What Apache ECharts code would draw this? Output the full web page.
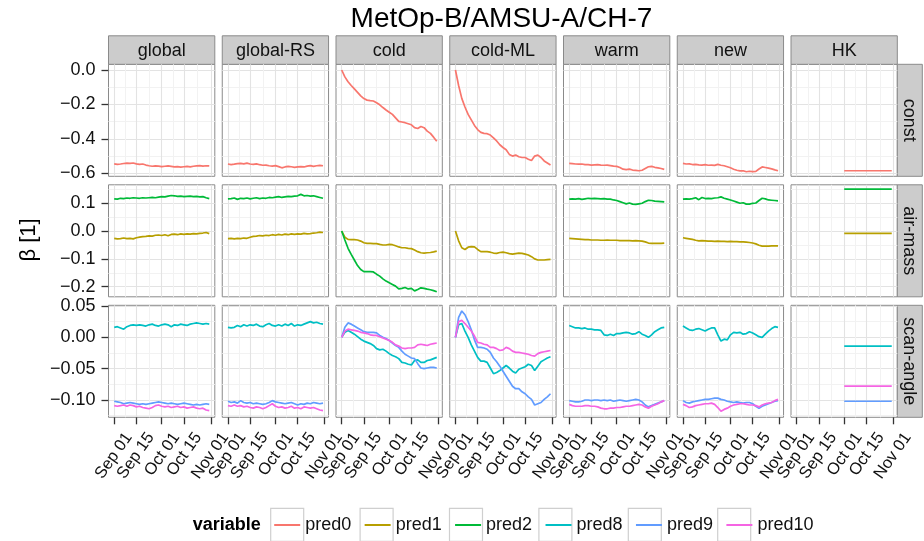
<!DOCTYPE html>
<html>
<head>
<meta charset="utf-8">
<script src="https://cdn.jsdelivr.net/npm/echarts@6/dist/echarts.min.js"></script>
<style>
  html, body { margin: 0; padding: 0; background: #ffffff; }
  #chart { width: 924px; height: 541px; }
</style>
</head>
<body>
<div id="chart"></div>
<script>
// ---- labels and categories ----
const titleText = 'MetOp-B/AMSU-A/CH-7';
const yAxisTitle = 'β [1]';
const legendTitle = 'variable';
const panelNames = ['global', 'global-RS', 'cold', 'cold-ML', 'warm', 'new', 'HK'];
const rowNames = ['const', 'air-mass', 'scan-angle'];
const predNames = ['pred0', 'pred1', 'pred2', 'pred8', 'pred9', 'pred10'];
const predColors = ['#F8766D', '#B79F00', '#00BA38', '#00BFC4', '#619CFF', '#F564E3'];
const monthNames = ['Jan', 'Feb', 'Mar', 'Apr', 'May', 'Jun', 'Jul', 'Aug', 'Sep', 'Oct', 'Nov', 'Dec'];

// sampling dates of the coefficient series
const dates = ['2013-09-01', '2013-09-03', '2013-09-05', '2013-09-07', '2013-09-09', '2013-09-11',
  '2013-09-13', '2013-09-15', '2013-09-17', '2013-09-19', '2013-09-21', '2013-09-23', '2013-09-25',
  '2013-09-27', '2013-09-29', '2013-10-01', '2013-10-03', '2013-10-05', '2013-10-07', '2013-10-09',
  '2013-10-11', '2013-10-13', '2013-10-15', '2013-10-17', '2013-10-19', '2013-10-21', '2013-10-23',
  '2013-10-25', '2013-10-27', '2013-10-29', '2013-10-31'];
const hkDates = ['2013-10-01', '2013-10-31'];

// axis tick labels
const xTickDates = ['2013-09-01', '2013-09-15', '2013-10-01', '2013-10-15', '2013-11-01'];
const constTicks = [0, -0.2, -0.4, -0.6];
const airMassTicks = [0.1, 0, -0.1, -0.2];
const scanAngleTicks = [0.05, 0, -0.05, -0.10];

// ---- const row (pred0) ----
const p0Global = [-0.545, -0.548, -0.546, -0.543, -0.541, -0.542, -0.540, -0.545, -0.548, -0.546, -0.552, -0.556, -0.559, -0.557, -0.558, -0.561, -0.559, -0.557, -0.560, -0.563, -0.561, -0.564, -0.562, -0.560, -0.563, -0.559, -0.557, -0.555, -0.558, -0.556, -0.557];
const p0GlobalRS = [-0.546, -0.549, -0.547, -0.544, -0.542, -0.545, -0.541, -0.546, -0.548, -0.545, -0.550, -0.553, -0.552, -0.556, -0.558, -0.555, -0.561, -0.568, -0.563, -0.560, -0.562, -0.565, -0.563, -0.561, -0.563, -0.558, -0.555, -0.560, -0.556, -0.554, -0.556];
const p0Cold = [0.000, -0.040, -0.068, -0.090, -0.110, -0.130, -0.150, -0.166, -0.175, -0.178, -0.180, -0.190, -0.202, -0.218, -0.232, -0.245, -0.258, -0.278, -0.298, -0.302, -0.306, -0.312, -0.318, -0.335, -0.340, -0.328, -0.335, -0.355, -0.368, -0.390, -0.414];
const p0ColdML = [0.000, -0.090, -0.165, -0.215, -0.258, -0.290, -0.322, -0.346, -0.362, -0.368, -0.370, -0.378, -0.394, -0.412, -0.434, -0.450, -0.463, -0.490, -0.500, -0.494, -0.504, -0.508, -0.508, -0.518, -0.526, -0.500, -0.494, -0.508, -0.528, -0.540, -0.552];
const p0Warm = [-0.542, -0.544, -0.546, -0.547, -0.546, -0.549, -0.550, -0.552, -0.551, -0.550, -0.552, -0.553, -0.552, -0.555, -0.558, -0.560, -0.566, -0.576, -0.578, -0.576, -0.581, -0.583, -0.585, -0.582, -0.572, -0.562, -0.560, -0.565, -0.568, -0.572, -0.577];
const p0New = [-0.542, -0.546, -0.545, -0.549, -0.548, -0.551, -0.552, -0.550, -0.553, -0.552, -0.554, -0.548, -0.553, -0.556, -0.562, -0.568, -0.576, -0.582, -0.586, -0.585, -0.591, -0.588, -0.590, -0.589, -0.575, -0.563, -0.566, -0.570, -0.574, -0.580, -0.585];
const p0HK = [-0.585, -0.585];

// ---- air-mass row (pred1, pred2) ----
const p1Global = [-0.026, -0.028, -0.027, -0.025, -0.027, -0.026, -0.028, -0.024, -0.022, -0.020, -0.019, -0.017, -0.018, -0.015, -0.014, -0.016, -0.013, -0.017, -0.012, -0.011, -0.013, -0.010, -0.012, -0.010, -0.011, -0.009, -0.010, -0.008, -0.007, -0.005, -0.009];
const p1GlobalRS = [-0.027, -0.026, -0.028, -0.026, -0.027, -0.025, -0.026, -0.022, -0.019, -0.018, -0.016, -0.017, -0.015, -0.016, -0.013, -0.015, -0.012, -0.014, -0.011, -0.013, -0.010, -0.012, -0.010, -0.011, -0.008, -0.010, -0.009, -0.007, -0.006, -0.004, -0.005];
const p1Cold = [0.000, -0.022, -0.030, -0.031, -0.031, -0.032, -0.036, -0.042, -0.044, -0.044, -0.045, -0.045, -0.048, -0.050, -0.050, -0.048, -0.049, -0.053, -0.057, -0.060, -0.060, -0.062, -0.063, -0.068, -0.074, -0.078, -0.079, -0.078, -0.077, -0.075, -0.072];
const p1ColdML = [0.000, -0.035, -0.060, -0.066, -0.058, -0.056, -0.057, -0.066, -0.074, -0.074, -0.074, -0.076, -0.079, -0.080, -0.077, -0.076, -0.078, -0.081, -0.083, -0.081, -0.079, -0.080, -0.083, -0.086, -0.092, -0.100, -0.104, -0.104, -0.104, -0.103, -0.102];
const p1Warm = [-0.026, -0.027, -0.028, -0.029, -0.030, -0.031, -0.031, -0.032, -0.032, -0.032, -0.033, -0.033, -0.032, -0.033, -0.033, -0.033, -0.034, -0.034, -0.034, -0.034, -0.035, -0.034, -0.035, -0.036, -0.039, -0.043, -0.044, -0.044, -0.044, -0.044, -0.043];
const p1New = [-0.024, -0.026, -0.028, -0.030, -0.033, -0.035, -0.034, -0.035, -0.036, -0.036, -0.037, -0.036, -0.037, -0.037, -0.038, -0.037, -0.038, -0.038, -0.039, -0.039, -0.040, -0.041, -0.043, -0.046, -0.051, -0.054, -0.054, -0.054, -0.053, -0.053, -0.053];
const p1HK = [-0.008, -0.008];

const p2Global = [0.116, 0.115, 0.118, 0.117, 0.119, 0.118, 0.120, 0.119, 0.118, 0.120, 0.119, 0.120, 0.121, 0.120, 0.122, 0.124, 0.123, 0.126, 0.128, 0.127, 0.125, 0.126, 0.124, 0.125, 0.126, 0.124, 0.125, 0.123, 0.124, 0.120, 0.117];
const p2GlobalRS = [0.116, 0.117, 0.119, 0.114, 0.118, 0.117, 0.119, 0.116, 0.118, 0.120, 0.117, 0.119, 0.118, 0.121, 0.120, 0.122, 0.124, 0.121, 0.123, 0.125, 0.124, 0.126, 0.127, 0.132, 0.127, 0.128, 0.126, 0.127, 0.124, 0.121, 0.118];
const p2Cold = [0.000, -0.032, -0.062, -0.084, -0.104, -0.124, -0.138, -0.146, -0.146, -0.146, -0.147, -0.155, -0.162, -0.172, -0.180, -0.186, -0.192, -0.198, -0.208, -0.206, -0.203, -0.208, -0.206, -0.215, -0.210, -0.204, -0.206, -0.209, -0.211, -0.214, -0.218];
const p2Warm = [0.115, 0.116, 0.115, 0.117, 0.114, 0.116, 0.118, 0.117, 0.118, 0.117, 0.116, 0.117, 0.115, 0.115, 0.112, 0.110, 0.106, 0.102, 0.098, 0.101, 0.097, 0.096, 0.098, 0.100, 0.106, 0.111, 0.110, 0.108, 0.107, 0.106, 0.105];
const p2New = [0.115, 0.116, 0.115, 0.117, 0.120, 0.113, 0.121, 0.117, 0.118, 0.117, 0.119, 0.120, 0.123, 0.118, 0.115, 0.112, 0.108, 0.104, 0.100, 0.102, 0.097, 0.097, 0.100, 0.101, 0.110, 0.118, 0.116, 0.112, 0.111, 0.110, 0.109];
const p2HK = [0.151, 0.151];

// ---- scan-angle row (pred8, pred9, pred10) ----
const p8Global = [0.016, 0.017, 0.015, 0.013, 0.017, 0.019, 0.020, 0.019, 0.020, 0.019, 0.018, 0.020, 0.021, 0.019, 0.018, 0.020, 0.021, 0.020, 0.017, 0.020, 0.019, 0.021, 0.020, 0.019, 0.021, 0.022, 0.023, 0.022, 0.021, 0.022, 0.021];
const p8GlobalRS = [0.016, 0.015, 0.016, 0.019, 0.017, 0.020, 0.018, 0.020, 0.019, 0.021, 0.018, 0.017, 0.020, 0.022, 0.019, 0.018, 0.020, 0.018, 0.021, 0.019, 0.022, 0.018, 0.020, 0.019, 0.021, 0.023, 0.025, 0.023, 0.024, 0.022, 0.021];
const p8Cold = [0.000, 0.008, 0.011, 0.008, 0.005, 0.001, -0.003, -0.006, -0.008, -0.010, -0.013, -0.018, -0.020, -0.019, -0.022, -0.026, -0.029, -0.031, -0.034, -0.040, -0.041, -0.043, -0.044, -0.037, -0.036, -0.040, -0.040, -0.037, -0.036, -0.034, -0.032];
const p8ColdML = [0.000, 0.020, 0.022, 0.010, 0.000, -0.012, -0.022, -0.032, -0.038, -0.038, -0.040, -0.049, -0.058, -0.056, -0.053, -0.049, -0.045, -0.049, -0.054, -0.057, -0.051, -0.049, -0.047, -0.043, -0.045, -0.053, -0.046, -0.039, -0.036, -0.033, -0.031];
const p8Warm = [0.019, 0.017, 0.015, 0.015, 0.014, 0.015, 0.013, 0.013, 0.012, 0.012, 0.011, 0.004, 0.003, 0.005, 0.003, 0.006, 0.006, 0.007, 0.008, 0.007, 0.005, 0.006, 0.009, 0.005, 0.003, 0.000, 0.004, 0.009, 0.012, 0.015, 0.016];
const p8New = [0.018, 0.015, 0.012, 0.011, 0.013, 0.014, 0.012, 0.010, 0.013, 0.015, 0.015, 0.004, -0.006, -0.003, -0.004, 0.004, 0.008, 0.007, 0.008, 0.005, 0.006, 0.009, 0.007, 0.004, 0.001, 0.000, 0.005, 0.010, 0.014, 0.017, 0.016];
const p8HK = [-0.014, -0.014];

const p9Global = [-0.102, -0.103, -0.104, -0.106, -0.105, -0.104, -0.105, -0.106, -0.107, -0.106, -0.107, -0.106, -0.105, -0.104, -0.103, -0.104, -0.105, -0.106, -0.105, -0.106, -0.107, -0.106, -0.105, -0.106, -0.107, -0.108, -0.107, -0.108, -0.107, -0.106, -0.107];
const p9GlobalRS = [-0.102, -0.104, -0.103, -0.105, -0.101, -0.104, -0.105, -0.104, -0.106, -0.105, -0.106, -0.107, -0.106, -0.104, -0.101, -0.103, -0.104, -0.105, -0.106, -0.105, -0.104, -0.106, -0.108, -0.106, -0.107, -0.105, -0.106, -0.104, -0.105, -0.106, -0.105];
const p9Cold = [0.000, 0.016, 0.023, 0.021, 0.018, 0.015, 0.012, 0.009, 0.008, 0.008, 0.008, 0.007, 0.003, 0.000, -0.002, -0.005, -0.009, -0.013, -0.016, -0.022, -0.027, -0.030, -0.033, -0.034, -0.042, -0.049, -0.050, -0.049, -0.048, -0.048, -0.049];
const p9ColdML = [0.000, 0.032, 0.042, 0.036, 0.025, 0.012, -0.004, -0.016, -0.016, -0.017, -0.019, -0.024, -0.033, -0.039, -0.046, -0.054, -0.062, -0.070, -0.078, -0.082, -0.082, -0.087, -0.090, -0.095, -0.099, -0.108, -0.106, -0.104, -0.099, -0.095, -0.090];
const p9Warm = [-0.101, -0.102, -0.103, -0.103, -0.102, -0.100, -0.100, -0.101, -0.100, -0.100, -0.101, -0.100, -0.101, -0.100, -0.102, -0.101, -0.100, -0.101, -0.102, -0.101, -0.100, -0.099, -0.100, -0.103, -0.108, -0.111, -0.109, -0.107, -0.105, -0.103, -0.101];
const p9New = [-0.101, -0.104, -0.105, -0.103, -0.102, -0.101, -0.100, -0.099, -0.099, -0.098, -0.097, -0.097, -0.099, -0.100, -0.102, -0.103, -0.104, -0.103, -0.104, -0.105, -0.104, -0.104, -0.106, -0.110, -0.113, -0.110, -0.108, -0.106, -0.104, -0.102, -0.101];
const p9HK = [-0.102, -0.102];

const p10Global = [-0.109, -0.110, -0.109, -0.108, -0.110, -0.108, -0.109, -0.111, -0.110, -0.112, -0.113, -0.114, -0.112, -0.109, -0.108, -0.110, -0.111, -0.110, -0.112, -0.111, -0.110, -0.112, -0.111, -0.113, -0.112, -0.111, -0.113, -0.114, -0.113, -0.116, -0.117];
const p10GlobalRS = [-0.109, -0.110, -0.108, -0.110, -0.109, -0.111, -0.110, -0.112, -0.113, -0.111, -0.112, -0.114, -0.112, -0.109, -0.106, -0.110, -0.112, -0.111, -0.113, -0.112, -0.110, -0.113, -0.112, -0.114, -0.111, -0.112, -0.113, -0.112, -0.114, -0.116, -0.117];
const p10Cold = [0.000, 0.010, 0.013, 0.012, 0.011, 0.010, 0.008, 0.007, 0.006, 0.004, 0.003, 0.003, 0.001, -0.001, -0.003, -0.005, -0.008, -0.012, -0.014, -0.017, -0.018, -0.017, -0.017, -0.016, -0.012, -0.011, -0.012, -0.013, -0.011, -0.010, -0.009];
const p10ColdML = [0.000, 0.025, 0.027, 0.022, 0.016, 0.010, 0.002, -0.008, -0.009, -0.011, -0.012, -0.016, -0.016, -0.018, -0.021, -0.020, -0.016, -0.018, -0.022, -0.024, -0.024, -0.025, -0.026, -0.027, -0.029, -0.030, -0.026, -0.024, -0.023, -0.022, -0.021];
const p10Warm = [-0.107, -0.109, -0.110, -0.110, -0.110, -0.109, -0.109, -0.110, -0.110, -0.111, -0.113, -0.114, -0.114, -0.113, -0.113, -0.112, -0.112, -0.111, -0.110, -0.110, -0.109, -0.108, -0.107, -0.108, -0.111, -0.113, -0.110, -0.108, -0.106, -0.103, -0.101];
const p10New = [-0.107, -0.109, -0.112, -0.111, -0.109, -0.108, -0.107, -0.106, -0.106, -0.105, -0.107, -0.112, -0.118, -0.115, -0.113, -0.110, -0.108, -0.107, -0.106, -0.106, -0.107, -0.108, -0.108, -0.109, -0.111, -0.108, -0.106, -0.105, -0.104, -0.101, -0.099];
const p10HK = [-0.078, -0.078];

// which predictor series appear in each facet row, one array per panel column (null = not drawn)
const facetRows = [
  [['pred0', [p0Global, p0GlobalRS, p0Cold, p0ColdML, p0Warm, p0New, p0HK]]],
  [['pred1', [p1Global, p1GlobalRS, p1Cold, p1ColdML, p1Warm, p1New, p1HK]],
   ['pred2', [p2Global, p2GlobalRS, p2Cold, null, p2Warm, p2New, p2HK]]],
  [['pred8', [p8Global, p8GlobalRS, p8Cold, p8ColdML, p8Warm, p8New, p8HK]],
   ['pred9', [p9Global, p9GlobalRS, p9Cold, p9ColdML, p9Warm, p9New, p9HK]],
   ['pred10', [p10Global, p10GlobalRS, p10Cold, p10ColdML, p10Warm, p10New, p10HK]]]
];
const rowTicks = [constTicks, airMassTicks, scanAngleTicks];

// ---- layout ----
const FONT = '"Liberation Sans", Arial, Helvetica, sans-serif';
const TEXT = '#111111';
const DAY = 86400000;
const PANEL_LEFT0 = 108.5, PANEL_STEP_X = 113.75, PANEL_W = 106.3;
const PANEL_TOP0 = 64.3, PANEL_STEP_Y = 120.5, PANEL_H = 112;
const STRIP_H = 28.5, SIDE_STRIP_W = 25;
const Y_RANGES = [[-0.6173, 0.0331], [-0.2364, 0.1665], [-0.1276, 0.0511]];
const Y_DECIMALS = [1, 1, 2];
const DATE_LABEL_DX = 14.5, DATE_LABEL_DY = 17, DATE_FONT = 16.5, DATE_ANGLE = 55 * Math.PI / 180;

function utc(s) {
  const p = s.split('-').map(Number);
  return Date.UTC(p[0], p[1] - 1, p[2]);
}
const t0 = utc(dates[0]);
const X_MIN = t0 - 3.6 * DAY;
const X_MAX = t0 + 63.5 * DAY;
const xMajor = xTickDates.map(utc);
const xMinor = xMajor.slice(1).map((v, i) => (v + xMajor[i]) / 2);
const yMinorOf = ticks => ticks.slice(1).map((v, i) => (v + ticks[i]) / 2)
  .concat([ticks[ticks.length - 1] + (ticks[ticks.length - 1] - ticks[ticks.length - 2]) / 2,
           ticks[0] + (ticks[0] - ticks[1]) / 2]);

function fmtDate(v) {
  const d = new Date(Math.round(v));
  return monthNames[d.getUTCMonth()] + ' ' + String(d.getUTCDate()).padStart(2, '0');
}
function fmtNum(dec) {
  return v => {
    const s = Number(v).toFixed(dec);
    return s.charAt(0) === '-' ? '\u2212' + s.slice(1) : s;
  };
}

const grids = [], xAxes = [], yAxes = [], series = [], graphics = [];
const MAJOR_GRID = { color: '#e3e3e3', width: 1.1 };
const MINOR_GRID = { color: '#f2f2f2', width: 1 };

for (let r = 0; r < 3; r++) {
  const top = PANEL_TOP0 + r * PANEL_STEP_Y;
  const yMinor = yMinorOf(rowTicks[r]);
  for (let c = 0; c < 7; c++) {
    const g = r * 7 + c;
    const left = PANEL_LEFT0 + c * PANEL_STEP_X;
    grids.push({
      left: left, top: top, width: PANEL_W, height: PANEL_H,
      show: true, backgroundColor: '#ffffff', borderColor: '#8a8a8a', borderWidth: 1,
      containLabel: false, outerBoundsMode: 'none'
    });
    const bottomRow = r === 2, firstCol = c === 0;
    // major x axis on a millisecond date scale (date labels are placed after layout)
    xAxes.push({
      type: 'value', gridIndex: g, min: X_MIN, max: X_MAX, position: 'bottom',
      axisLine: { show: false, onZero: false },
      axisTick: { show: bottomRow, length: 7, customValues: xMajor, lineStyle: { color: '#333333', width: 1.3 } },
      axisLabel: { show: false, customValues: xMajor },
      splitLine: { show: true, lineStyle: MAJOR_GRID }
    });
    // minor vertical grid lines
    xAxes.push({
      type: 'value', gridIndex: g, min: X_MIN, max: X_MAX, position: 'top',
      axisLine: { show: false, onZero: false },
      axisTick: { show: false, customValues: xMinor },
      axisLabel: { show: false, customValues: xMinor },
      splitLine: { show: true, lineStyle: MINOR_GRID }
    });
    yAxes.push({
      type: 'value', gridIndex: g, min: Y_RANGES[r][0], max: Y_RANGES[r][1], position: 'left',
      axisLine: { show: false, onZero: false },
      axisTick: { show: firstCol, length: 7, customValues: rowTicks[r], lineStyle: { color: '#333333', width: 1.3 } },
      axisLabel: {
        show: firstCol, customValues: rowTicks[r], formatter: fmtNum(Y_DECIMALS[r]), margin: 13,
        showMinLabel: true, showMaxLabel: true,
        fontFamily: FONT, fontSize: 18, color: TEXT
      },
      splitLine: { show: true, lineStyle: MAJOR_GRID }
    });
    yAxes.push({
      type: 'value', gridIndex: g, min: Y_RANGES[r][0], max: Y_RANGES[r][1], position: 'right',
      axisLine: { show: false, onZero: false },
      axisTick: { show: false, customValues: yMinor },
      axisLabel: { show: false, customValues: yMinor },
      splitLine: { show: true, lineStyle: MINOR_GRID }
    });

    const xs = c === 6 ? hkDates : dates;
    facetRows[r].forEach(([name, cols]) => {
      const vals = cols[c];
      if (!vals) return;
      const color = predColors[predNames.indexOf(name)];
      series.push({
        name: name, type: 'line', xAxisIndex: 2 * g, yAxisIndex: 2 * g,
        data: xs.map((d, i) => [utc(d), vals[i]]),
        showSymbol: false, symbol: 'none', silent: true, z: 3,
        color: color, itemStyle: { color: color },
        lineStyle: { color: color, width: 1.7 }
      });
    });

    // column strip on top
    if (r === 0) {
      graphics.push({
        type: 'rect', shape: { x: left, y: top - STRIP_H, width: PANEL_W, height: STRIP_H },
        style: { fill: '#cccccc', stroke: '#8a8a8a', lineWidth: 1 }
      });
      graphics.push({
        type: 'text', x: left + PANEL_W / 2, y: top - STRIP_H / 2 + 1,
        style: { text: panelNames[c], fontFamily: FONT, fontSize: 18, fill: TEXT, align: 'center', verticalAlign: 'middle' }
      });
    }
  }
  // row strip on the right
  const sx = PANEL_LEFT0 + 6 * PANEL_STEP_X + PANEL_W;
  graphics.push({
    type: 'rect', shape: { x: sx, y: top, width: SIDE_STRIP_W, height: PANEL_H },
    style: { fill: '#cccccc', stroke: '#8a8a8a', lineWidth: 1 }
  });
  graphics.push({
    type: 'text', x: sx + SIDE_STRIP_W / 2 - 1, y: top + PANEL_H / 2, rotation: -Math.PI / 2,
    style: { text: rowNames[r], fontFamily: FONT, fontSize: 18, fill: TEXT, align: 'center', verticalAlign: 'middle' }
  });
}

// plot title and y axis title
graphics.push({
  type: 'text', x: 501.5, y: 19,
  style: { text: titleText, fontFamily: FONT, fontSize: 28, fill: '#000000', align: 'center', verticalAlign: 'middle' }
});
graphics.push({
  type: 'text', x: 29, y: 240, rotation: Math.PI / 2,
  style: { text: yAxisTitle, fontFamily: FONT, fontSize: 22, fill: '#000000', align: 'center', verticalAlign: 'middle' }
});

// legend: title and key boxes
const LEGEND_X0 = 270.7, LEGEND_STEP = 89.4, KEY = 33, KEY_TOP = 508.3;
graphics.push({
  type: 'text', x: 192.7, y: KEY_TOP + KEY / 2,
  style: { text: legendTitle, fontFamily: FONT, fontSize: 18, fontWeight: 'bold', fill: '#000000', align: 'left', verticalAlign: 'middle' }
});
predNames.forEach((n, i) => {
  graphics.push({
    type: 'rect', z: -1,
    shape: { x: LEGEND_X0 + i * LEGEND_STEP, y: KEY_TOP, width: KEY, height: KEY },
    style: { fill: '#ffffff', stroke: '#cfcfcf', lineWidth: 1.2 }
  });
});

const option = {
  animation: false,
  backgroundColor: '#ffffff',
  textStyle: { fontFamily: FONT },
  grid: grids,
  xAxis: xAxes,
  yAxis: yAxes,
  legend: {
    data: predNames, left: LEGEND_X0 + 3.5, top: 516, orient: 'horizontal',
    icon: 'rect', itemWidth: 26, itemHeight: 2, itemGap: 13.4,
    selectedMode: false, padding: 0,
    textStyle: { fontFamily: FONT, fontSize: 18, color: TEXT }
  },
  graphic: { elements: graphics },
  series: series
};

const chart = echarts.init(document.getElementById('chart'), null, { renderer: 'canvas' });
chart.setOption(option);

// rotated date labels under the bottom row, anchored at each tick through the axis scale
const dateLabels = [];
for (let c = 0; c < 7; c++) {
  const g = 14 + c;
  xMajor.forEach(t => {
    const p = chart.convertToPixel({ xAxisIndex: 2 * g, yAxisIndex: 2 * g }, [t, Y_RANGES[2][0]]);
    dateLabels.push({
      type: 'text', x: p[0] + DATE_LABEL_DX, y: p[1] + DATE_LABEL_DY, rotation: DATE_ANGLE,
      style: { text: fmtDate(t), fontFamily: FONT, fontSize: DATE_FONT, fill: TEXT, align: 'right', verticalAlign: 'middle' }
    });
  });
}
chart.setOption({ graphic: { elements: graphics.concat(dateLabels) } });
</script>
</body>
</html>
